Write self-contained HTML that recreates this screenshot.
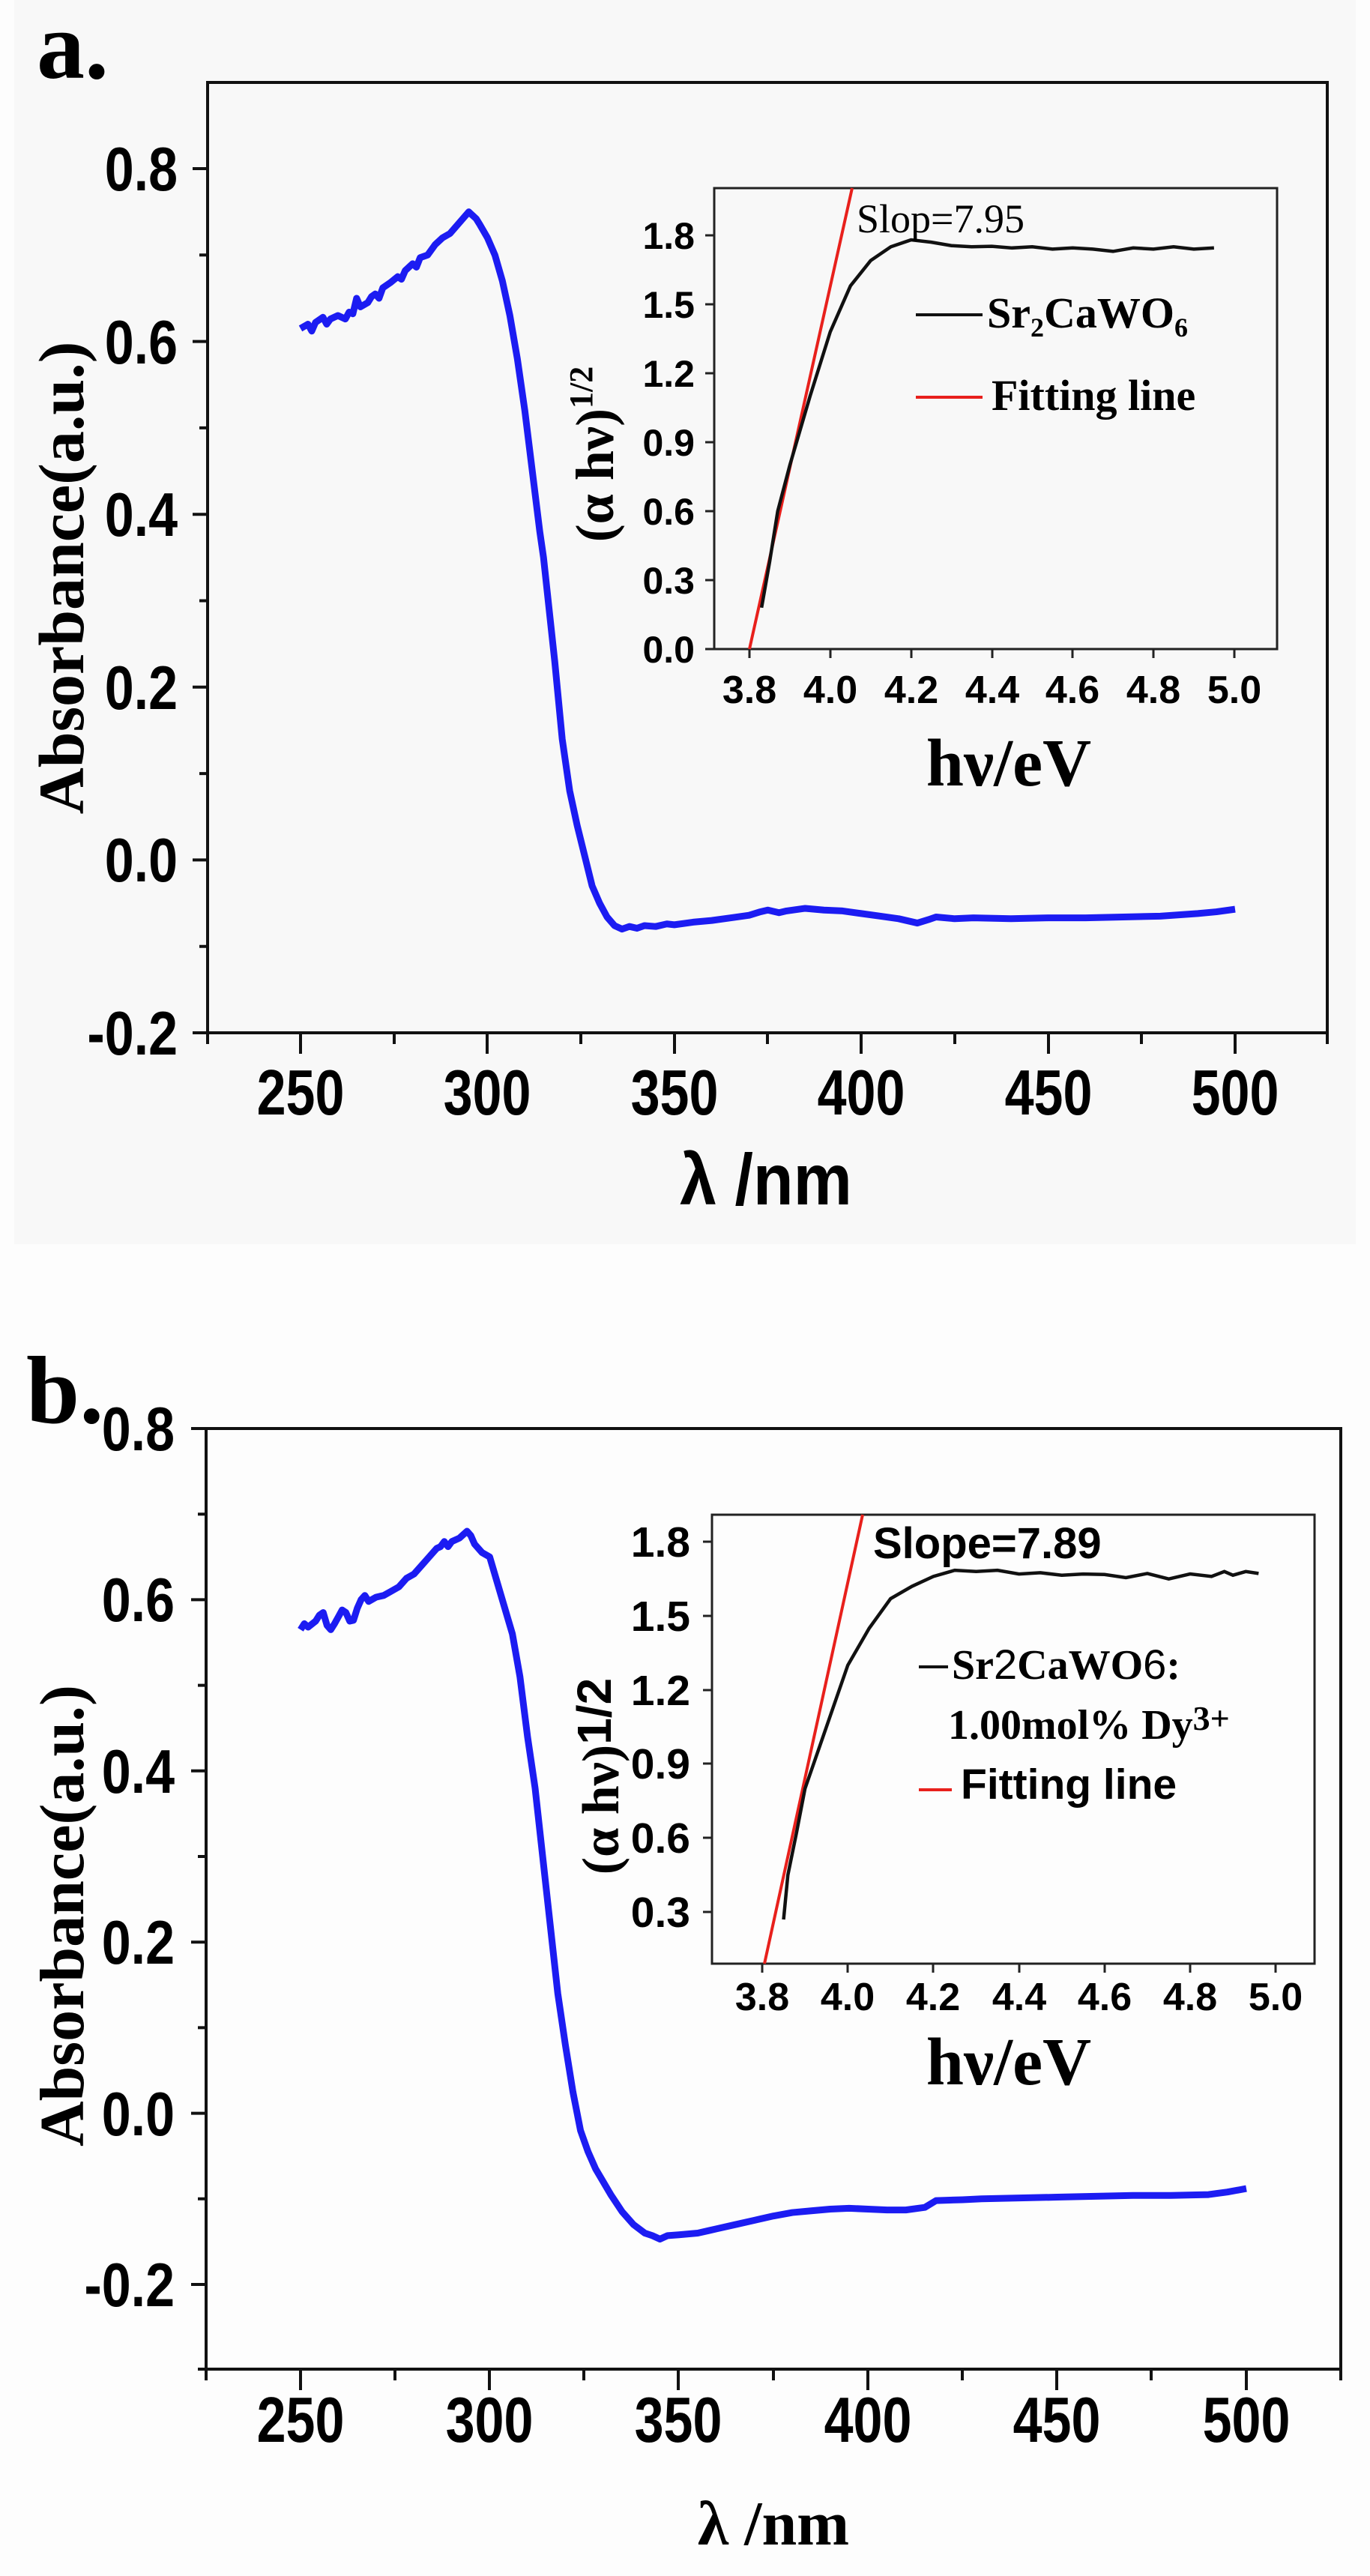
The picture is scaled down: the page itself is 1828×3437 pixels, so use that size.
<!DOCTYPE html>
<html><head><meta charset="utf-8"><style>
html,body{margin:0;padding:0;background:#fdfdfd;}
svg{display:block}
.s{font-family:"Liberation Sans",sans-serif;font-weight:bold;fill:#000}
.r{font-family:"Liberation Serif",serif;font-weight:bold;fill:#000}
</style></head><body>
<svg width="1828" height="3437" viewBox="0 0 1828 3437" xmlns="http://www.w3.org/2000/svg">
<rect x="0" y="0" width="1828" height="3437" fill="#fdfdfd"/>
<rect x="19" y="0" width="1790" height="1660" fill="#f8f8f8"/>

<!-- ================= PANEL A ================= -->
<text class="r" x="49" y="104" font-size="128">a.</text>
<g stroke="#111" stroke-width="4" fill="none">
<rect x="277" y="110" width="1494" height="1268"/>
<path d="M257 225H277M257 455.6H277M257 686.2H277M257 916.8H277M257 1147.4H277M257 1378H277
M266 340.3H277M266 570.9H277M266 801.5H277M266 1032.1H277M266 1262.7H277"/>
<path d="M401 1378V1406M650 1378V1406M900 1378V1406M1149 1378V1406M1399 1378V1406M1648 1378V1406
M526 1378V1393M775 1378V1393M1024 1378V1393M1274 1378V1393M1523 1378V1393M277 1378V1393M1771 1378V1393"/>
</g>
<g class="s" font-size="70" text-anchor="end">
<text transform="translate(237,254) scale(1,1.18)">0.8</text>
<text transform="translate(237,485) scale(1,1.18)">0.6</text>
<text transform="translate(237,715) scale(1,1.18)">0.4</text>
<text transform="translate(237,946) scale(1,1.18)">0.2</text>
<text transform="translate(237,1176) scale(1,1.18)">0.0</text>
<text transform="translate(237,1407) scale(1,1.18)">-0.2</text>
</g>
<g class="s" font-size="70" text-anchor="middle">
<text transform="translate(401,1487) scale(1,1.22)">250</text>
<text transform="translate(650,1487) scale(1,1.22)">300</text>
<text transform="translate(900,1487) scale(1,1.22)">350</text>
<text transform="translate(1149,1487) scale(1,1.22)">400</text>
<text transform="translate(1399,1487) scale(1,1.22)">450</text>
<text transform="translate(1648,1487) scale(1,1.22)">500</text>
</g>
<text class="s" font-size="88" text-anchor="middle" transform="translate(1022,1607) scale(1,1.1)">λ /nm</text>
<text class="r" font-size="86" text-anchor="middle" transform="translate(111,771) rotate(-90)">Absorbance(a.u.)</text>

<g transform="matrix(4.988 0 0 -1153 -846 1147.4)">
<polyline fill="none" stroke="#1c1cf2" stroke-width="9" vector-effect="non-scaling-stroke" stroke-linejoin="round"
points="250,.615 252,.62 253,.612 254,.622 256,.628 257,.62 258,.626 260,.63 262,.626 263,.634 264,.632 265,.65 266,.64 268,.645 269,.652 270,.655 271,.65 272,.662 274,.668 276,.675 277,.672 278,.682 280,.69 281,.686 282,.697 284,.70 286,.712 288,.72 290,.725 292,.735 294,.745 295,.75 296,.746 297,.742 298,.735 300,.72 302,.70 304,.67 306,.63 308,.58 310,.52 312,.45 314,.38 315,.35 316,.31 318,.23 320,.14 322,.08 324,.04 326,.005 328,-.03 330,-.05 332,-.066 334,-.076 336,-.08 338,-.077 340,-.079 342,-.076 345,-.077 348,-.074 350,-.075 355,-.072 360,-.07 365,-.067 370,-.064 373,-.06 375,-.058 378,-.061 380,-.059 385,-.056 390,-.058 395,-.059 400,-.062 405,-.065 410,-.068 415,-.073 418,-.069 420,-.066 425,-.068 430,-.067 440,-.068 450,-.067 460,-.067 470,-.066 480,-.065 490,-.062 495,-.06 500,-.057"/>
</g>

<!-- inset a -->
<g stroke="#222" stroke-width="3" fill="none">
<rect x="953" y="251" width="751" height="615" fill="none"/>
<path d="M941 866H953M941 774H953M941 682H953M941 590H953M941 498H953M941 406H953M941 314H953"/>
<path d="M1000 866V878M1108 866V878M1216 866V878M1324 866V878M1431 866V878M1539 866V878M1647 866V878"/>
</g>
<g class="s" font-size="50" text-anchor="end">
<text x="927" y="884">0.0</text><text x="927" y="792">0.3</text><text x="927" y="700">0.6</text>
<text x="927" y="608">0.9</text><text x="927" y="516">1.2</text><text x="927" y="424">1.5</text><text x="927" y="332">1.8</text>
</g>
<g class="s" font-size="52" text-anchor="middle">
<text x="1000" y="938">3.8</text><text x="1108" y="938">4.0</text><text x="1216" y="938">4.2</text>
<text x="1324" y="938">4.4</text><text x="1431" y="938">4.6</text><text x="1539" y="938">4.8</text><text x="1647" y="938">5.0</text>
</g>
<text class="r" font-size="90" text-anchor="middle" x="1346" y="1048">hν/eV</text>
<text class="r" font-size="72" text-anchor="middle" transform="translate(818,606) rotate(-90)">(α hν)<tspan font-size="44" dy="-28">1/2</tspan></text>
<line x1="1000" y1="866" x2="1137" y2="251" stroke="#e8201c" stroke-width="4"/>
<g transform="matrix(539 0 0 -306.7 -1048.2 866)">
<polyline fill="none" stroke="#111" stroke-width="4.5" vector-effect="non-scaling-stroke"
points="3.83,.18 3.85,.38 3.87,.6 3.9,.8 3.95,1.1 4.0,1.38 4.05,1.58 4.1,1.69 4.15,1.75 4.2,1.78 4.25,1.77 4.3,1.755 4.35,1.75 4.4,1.752 4.45,1.745 4.5,1.75 4.55,1.74 4.6,1.745 4.65,1.74 4.7,1.73 4.75,1.745 4.8,1.74 4.85,1.75 4.9,1.74 4.95,1.745"/>
</g>
<text class="r" font-size="54" style="font-weight:normal" x="1143" y="310">Slop=7.95</text>
<line x1="1222" y1="420" x2="1311" y2="420" stroke="#111" stroke-width="4"/>
<text class="r" font-size="58" x="1317" y="437">Sr<tspan font-size="36" dy="12">2</tspan><tspan dy="-12">CaWO</tspan><tspan font-size="36" dy="12">6</tspan></text>
<line x1="1222" y1="530" x2="1311" y2="530" stroke="#e8201c" stroke-width="4"/>
<text class="r" font-size="58" x="1323" y="547">Fitting line</text>

<!-- ================= PANEL B ================= -->
<text class="r" x="35" y="1898" font-size="128">b.</text>
<g stroke="#111" stroke-width="4" fill="none">
<rect x="275" y="1906" width="1514" height="1255"/>
<path d="M255 1906H275M255 2134.4H275M255 2362.8H275M255 2591.2H275M255 2819.6H275M255 3048H275
M264 2020.2H275M264 2248.6H275M264 2477H275M264 2705.4H275M264 2933.8H275M264 3161H275"/>
<path d="M401 3161V3189M653 3161V3189M905 3161V3189M1158 3161V3189M1410 3161V3189M1663 3161V3189
M527 3161V3176M779 3161V3176M1032 3161V3176M1284 3161V3176M1536 3161V3176M275 3161V3176M1789 3161V3176"/>
</g>
<g class="s" font-size="70" text-anchor="end">
<text transform="translate(233,1935) scale(1,1.18)">0.8</text>
<text transform="translate(233,2163) scale(1,1.18)">0.6</text>
<text transform="translate(233,2392) scale(1,1.18)">0.4</text>
<text transform="translate(233,2620) scale(1,1.18)">0.2</text>
<text transform="translate(233,2849) scale(1,1.18)">0.0</text>
<text transform="translate(233,3077) scale(1,1.18)">-0.2</text>
</g>
<g class="s" font-size="70" text-anchor="middle">
<text transform="translate(401,3258) scale(1,1.22)">250</text>
<text transform="translate(653,3258) scale(1,1.22)">300</text>
<text transform="translate(905,3258) scale(1,1.22)">350</text>
<text transform="translate(1158,3258) scale(1,1.22)">400</text>
<text transform="translate(1410,3258) scale(1,1.22)">450</text>
<text transform="translate(1663,3258) scale(1,1.22)">500</text>
</g>
<text class="r" font-size="84" text-anchor="middle" x="1032" y="3395">λ /nm</text>
<text class="r" font-size="84" text-anchor="middle" transform="translate(111,2556) rotate(-90)">Absorbance(a.u.)</text>

<g transform="matrix(5.048 0 0 -1142 -861 2819.6)">
<polyline fill="none" stroke="#1c1cf2" stroke-width="9" vector-effect="non-scaling-stroke" stroke-linejoin="round"
points="250,.565 251,.572 252,.568 254,.575 255,.582 256,.585 257,.57 258,.565 259,.572 260,.58 261,.588 262,.585 263,.575 264,.576 265,.59 266,.60 267,.605 268,.598 270,.603 272,.605 274,.61 276,.615 278,.625 280,.63 282,.64 284,.65 286,.66 287,.662 288,.668 289,.662 290,.668 292,.672 293,.676 294,.68 295,.675 296,.665 298,.655 300,.65 302,.62 304,.59 306,.56 308,.51 310,.44 312,.38 314,.30 316,.22 318,.14 320,.08 322,.025 324,-.02 326,-.045 328,-.065 330,-.08 332,-.095 335,-.115 338,-.13 341,-.14 343,-.143 345,-.147 347,-.143 350,-.142 355,-.14 358,-.137 360,-.135 365,-.13 370,-.125 375,-.12 380,-.116 385,-.114 390,-.112 395,-.111 400,-.112 405,-.113 410,-.113 415,-.11 418,-.102 425,-.101 430,-.1 440,-.099 450,-.098 460,-.097 470,-.096 480,-.096 490,-.095 495,-.092 500,-.088"/>
</g>

<!-- inset b -->
<g stroke="#222" stroke-width="3" fill="none">
<rect x="950" y="2021" width="804" height="599"/>
<path d="M938 2551H950M938 2452H950M938 2353H950M938 2255H950M938 2156H950M938 2057H950"/>
<path d="M1017 2620V2632M1131 2620V2632M1245 2620V2632M1360 2620V2632M1474 2620V2632M1588 2620V2632M1702 2620V2632"/>
</g>
<g class="s" font-size="57" text-anchor="end">
<text x="921" y="2571">0.3</text><text x="921" y="2472">0.6</text><text x="921" y="2373">0.9</text>
<text x="921" y="2275">1.2</text><text x="921" y="2176">1.5</text><text x="921" y="2077">1.8</text>
</g>
<g class="s" font-size="52" text-anchor="middle">
<text x="1017" y="2682">3.8</text><text x="1131" y="2682">4.0</text><text x="1245" y="2682">4.2</text>
<text x="1360" y="2682">4.4</text><text x="1474" y="2682">4.6</text><text x="1588" y="2682">4.8</text><text x="1702" y="2682">5.0</text>
</g>
<text class="r" font-size="90" text-anchor="middle" x="1346" y="2781">hν/eV</text>
<text class="r" font-size="70" text-anchor="middle" transform="translate(825,2370) rotate(-90)">(α hν)<tspan class="s" font-size="64" dy="-10">1/2</tspan></text>
<line x1="1020" y1="2620" x2="1151" y2="2021" stroke="#e8201c" stroke-width="4"/>
<g transform="matrix(571 0 0 -329.3 -1152.8 2650)">
<polyline fill="none" stroke="#111" stroke-width="4.5" vector-effect="non-scaling-stroke"
points="3.85,.27 3.86,.45 3.88,.62 3.9,.8 3.95,1.05 4.0,1.3 4.05,1.45 4.1,1.57 4.15,1.62 4.2,1.66 4.25,1.685 4.3,1.68 4.35,1.685 4.4,1.67 4.45,1.675 4.5,1.665 4.55,1.67 4.6,1.668 4.65,1.655 4.7,1.672 4.75,1.65 4.8,1.67 4.85,1.66 4.88,1.68 4.9,1.665 4.93,1.68 4.96,1.672"/>
</g>
<text class="s" font-size="58" x="1165" y="2079">Slope=7.89</text>
<line x1="1226" y1="2224" x2="1265" y2="2224" stroke="#111" stroke-width="4"/>
<text class="r" font-size="56" x="1270" y="2240">Sr<tspan class="s" style="font-weight:normal">2</tspan>CaWO<tspan class="s" style="font-weight:normal">6</tspan>:</text>
<text class="r" font-size="56" x="1265" y="2320">1.00mol% Dy<tspan font-size="46" dy="-12">3+</tspan></text>
<line x1="1226" y1="2388" x2="1270" y2="2388" stroke="#e8201c" stroke-width="4"/>
<text class="s" font-size="57" x="1282" y="2400">Fitting line</text>
</svg>
</body></html>
